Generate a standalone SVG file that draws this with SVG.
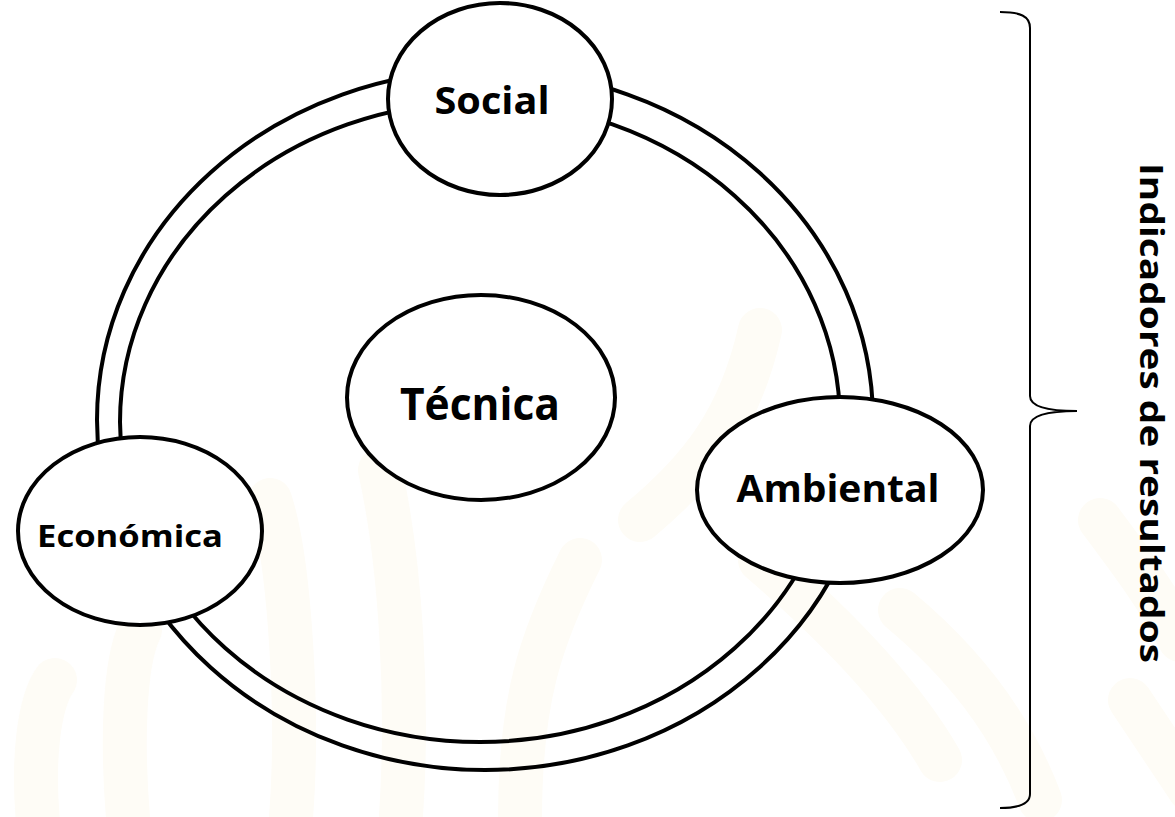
<svg xmlns="http://www.w3.org/2000/svg" width="1175" height="817" viewBox="0 0 1175 817">
<style>
.bg{fill:none;stroke:#fefcf6;stroke-width:44;stroke-linecap:round}
.ring{fill:none;stroke:#000;stroke-width:4}
.node{fill:#fff;stroke:#000;stroke-width:4}
.lbl{font-family:"Open Sans","Liberation Sans",sans-serif;font-weight:700;fill:#000;text-anchor:middle}
.brace{fill:none;stroke:#000;stroke-width:2}
</style>
<rect width="1175" height="817" fill="#fff"/>
<g id="watermark">
<path class="bg" d="M40,840 C30,760 40,700 55,680"/>
<path class="bg" d="M130,840 C120,740 125,660 140,630"/>
<path class="bg" d="M290,830 C300,720 290,560 270,500"/>
<path class="bg" d="M400,830 C410,700 400,560 380,470"/>
<path class="bg" d="M640,520 C700,470 740,420 760,330"/>
<path class="bg" d="M580,560 C540,640 520,700 520,820"/>
<path class="bg" d="M760,560 C830,620 900,690 940,760"/>
<path class="bg" d="M900,610 C960,660 1010,720 1040,800"/>
<path class="bg" d="M1100,520 C1130,560 1160,600 1180,640"/>
<path class="bg" d="M1130,700 C1150,730 1170,760 1190,790"/>
</g>
<g id="ring">
<ellipse class="ring" cx="485" cy="420" rx="388" ry="350"/>
<ellipse class="ring" cx="480" cy="422" rx="360" ry="320"/>
</g>
<g id="connectors">
<path class="brace" d="M1000,12 C1020,12 1030,16 1030,28 L1030,396 C1030,406 1045,411 1077,411 C1045,411 1030,416 1030,426 L1030,794 C1030,804 1020,808 1000,808"/>
</g>
<g id="social">
<ellipse class="node" cx="500" cy="99" rx="112" ry="96"/>
<text class="lbl" x="492" y="114" font-size="38" textLength="115" lengthAdjust="spacingAndGlyphs">Social</text>
</g>
<g id="tecnica">
<ellipse class="node" cx="481" cy="397.5" rx="134" ry="102.5"/>
<text class="lbl" x="480" y="420" font-size="44" textLength="160" lengthAdjust="spacingAndGlyphs">Técnica</text>
</g>
<g id="ambiental">
<ellipse class="node" cx="840" cy="490" rx="143" ry="93"/>
<text class="lbl" x="838" y="502" font-size="38" textLength="203" lengthAdjust="spacingAndGlyphs">Ambiental</text>
</g>
<g id="economica">
<ellipse class="node" cx="140" cy="531" rx="122" ry="94"/>
<text class="lbl" x="130" y="547" font-size="30" textLength="186" lengthAdjust="spacingAndGlyphs">Económica</text>
</g>
<g id="indicadores">
<text class="lbl" transform="translate(1140,163) rotate(90)" x="0" y="0" font-size="32" style="text-anchor:start" textLength="500" lengthAdjust="spacingAndGlyphs">Indicadores de resultados</text>
</g>
</svg>
